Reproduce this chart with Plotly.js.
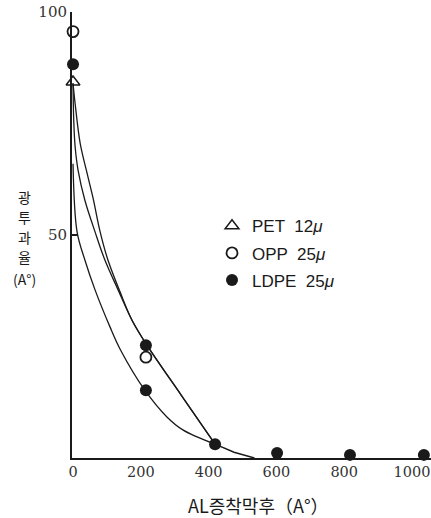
<!DOCTYPE html>
<html>
<head>
<meta charset="utf-8">
<script src="https://cdn.plot.ly/plotly-3.0.1.min.js"></script>
<style>html,body{margin:0;padding:0;background:#fff;}#chart{width:431px;height:518px;}</style>
</head>
<body>
<div id="chart"></div>
<script>
// Measured points
const petX = [0];
const petY = [84.3];
const oppX = [0, 215];
const oppY = [95.6, 22.6];
const ldpeX = [0, 215, 215, 419, 602, 817, 1035];
const ldpeY = [88.3, 25.3, 15.2, 3.1, 1.1, 0.7, 0.7];

// Drawn curves
const curveAX = [0, 2, 6, 15, 35, 65, 94, 133, 174, 218, 319, 419];
const curveAY = [84, 76, 70, 64.5, 57.8, 50.7, 44.4, 37.7, 30.9, 25.3, 14.1, 3.1];
const curveBX = [0, 6, 21, 40, 59, 80, 103, 139, 174, 218, 319, 419];
const curveBY = [84, 79.6, 70.6, 64.3, 58.3, 50.7, 44.4, 37.2, 30.9, 25.3, 14.1, 3.1];
const curveCX = [0, 12, 35, 65, 109, 139, 212, 277, 324, 419];
const curveCY = [66, 50.7, 44.4, 37.7, 29.4, 24.4, 15.2, 9.2, 6.3, 3.1];
const tailX = [419, 475, 535];
const tailY = [3.1, 1.3, 0];

const xTicks = [0, 200, 400, 600, 800, 1000];
const yTicks = [50, 100];
const legendNames = ['PET  12<i>μ</i>', 'OPP  25<i>μ</i>', 'LDPE  25<i>μ</i>'];
const yTitleLines = ['광', '투', '과', '율', '(A°)'];
const xTitle = 'AL증착막후（A°）';

const ink = '#1a1a1a';
function curve(x, y, w, shape) {
  return {x: x, y: y, mode: 'lines', type: 'scatter', showlegend: false, hoverinfo: 'skip',
    line: {color: ink, width: w, shape: shape, smoothing: 1}, cliponaxis: false};
}
const data = [
  curve(curveCX, curveCY, 1.3, 'spline'),
  curve(curveAX, curveAY, 1.3, 'spline'),
  curve(curveBX, curveBY, 1.3, 'spline'),
  curve(tailX, tailY, 1.5, 'linear'),
  {x: petX, y: petY, mode: 'markers', type: 'scatter', name: legendNames[0], legendgroup: 'a', cliponaxis: false,
    marker: {symbol: 'triangle-up-open', size: 12, color: ink, line: {width: 1.5, color: ink}}},
  {x: oppX, y: oppY, mode: 'markers', type: 'scatter', name: legendNames[1], legendgroup: 'b', cliponaxis: false,
    marker: {symbol: 'circle', size: 11, color: '#ffffff', line: {width: 1.8, color: ink}}},
  {x: ldpeX, y: ldpeY, mode: 'markers', type: 'scatter', name: legendNames[2], legendgroup: 'c', cliponaxis: false,
    marker: {symbol: 'circle', size: 12, color: ink, line: {width: 0}}}
];

const yPix = [197, 217, 237, 257, 279];
const annotations = yTitleLines.map((t, i) => ({
  xref: 'paper', yref: 'paper', x: (24 - 72) / 359, y: (458 - yPix[i]) / 446,
  xanchor: 'center', yanchor: 'middle', showarrow: false, text: t,
  font: {family: 'Noto Sans CJK KR, sans-serif', size: 14, color: ink}
}));
annotations.push({xref: 'paper', yref: 'paper', x: (258 - 72) / 359, y: (458 - 505) / 446,
  xanchor: 'center', yanchor: 'middle', showarrow: false, text: xTitle,
  font: {family: 'Noto Sans CJK KR, sans-serif', size: 18, color: ink}});

const layout = {
  width: 431, height: 518,
  margin: {l: 72, r: 0, t: 12, b: 60},
  paper_bgcolor: '#fff', plot_bgcolor: '#fff',
  showlegend: true,
  legend: {x: 0.39, y: 0.56, xanchor: 'left', yanchor: 'top', bgcolor: 'rgba(0,0,0,0)',
    traceorder: 'grouped', tracegroupgap: 2,
    font: {family: 'Liberation Sans, Arial, sans-serif', size: 17, color: ink}, itemwidth: 30},
  xaxis: {range: [-3, 1056], tickvals: xTicks, ticktext: xTicks.map(String), showline: true, linewidth: 2,
    linecolor: ink, ticks: '', showgrid: false, zeroline: false, fixedrange: true,
    ticklabeloverflow: 'allow',
    tickfont: {family: 'DejaVu Serif, Liberation Serif, serif', size: 14.5, color: '#333'}},
  yaxis: {range: [0, 100], tickvals: yTicks, ticktext: yTicks.map(String), showline: true, linewidth: 2,
    linecolor: ink, ticks: 'inside', ticklen: 6, tickwidth: 2, tickcolor: ink, showgrid: false,
    zeroline: false, fixedrange: true, ticklabeloverflow: 'allow',
    tickfont: {family: 'DejaVu Serif, Liberation Serif, serif', size: 15, color: '#333'}},
  annotations: annotations
};
Plotly.newPlot('chart', data, layout, {displayModeBar: false, staticPlot: true});
</script>
</body>
</html>
